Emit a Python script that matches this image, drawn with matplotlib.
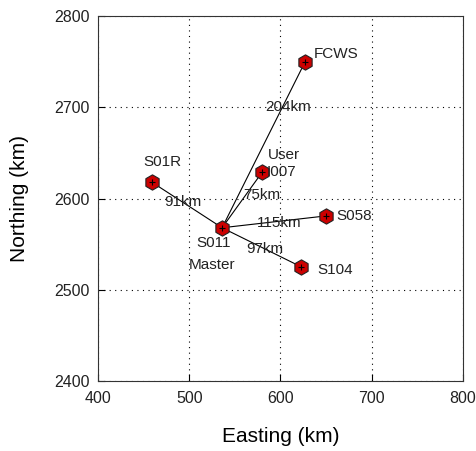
import matplotlib
matplotlib.use("Agg")
import matplotlib.pyplot as plt

plt.rcParams['font.family'] = ['Liberation Sans', 'DejaVu Sans']

# Station data (km)
names = ["S011", "FCWS", "I007", "S01R", "S058", "S104"]
east = [536, 627, 580, 459, 650, 623]
north = [2568, 2750, 2629, 2618, 2581, 2525]
dist_labels = ["204km", "75km", "91km", "115km", "97km"]
dist_pos_x = [608, 580, 493, 599, 583]
dist_pos_y = [2700, 2604, 2596, 2573, 2545]

xticks = [400, 500, 600, 700, 800]
yticks = [2400, 2500, 2600, 2700, 2800]

fig = plt.figure(figsize=(4.77, 4.51), dpi=100)
ax = fig.add_axes([0.2055, 0.1552, 0.765, 0.809])

# lines from master
for i in range(1, len(names)):
    ax.plot([east[0], east[i]], [north[0], north[i]], color='black', lw=0.8, zorder=2)

ax.plot(east, north, linestyle='none', marker='h', markersize=11,
        markerfacecolor='#cc0000', markeredgecolor='#222222', markeredgewidth=0.8, zorder=3)
ax.plot(east, north, linestyle='none', marker='+', markersize=5,
        color='black', markeredgewidth=0.8, zorder=4)

fs = 11
for t, x, y in zip(dist_labels, dist_pos_x, dist_pos_y):
    ax.text(x, y, t, fontsize=fs, ha='center', va='center', zorder=5, color='#222222')

ax.text(637, 2759, "FCWS", fontsize=fs, ha='left', va='center', color='#222222')
ax.text(604, 2648, "User", fontsize=fs, ha='center', va='center', color='#222222')
ax.text(585, 2629, "I007", fontsize=fs, ha='left', va='center', color='#222222')
ax.text(471, 2640, "S01R", fontsize=fs, ha='center', va='center', color='#222222')
ax.text(661, 2581, "S058", fontsize=fs, ha='left', va='center', color='#222222')
ax.text(640, 2522, "S104", fontsize=fs, ha='left', va='center', color='#222222')
ax.text(527, 2551, "S011", fontsize=fs, ha='center', va='center', color='#222222')
ax.text(525, 2527, "Master", fontsize=fs, ha='center', va='center', color='#222222')

ax.set_xlim(400, 800)
ax.set_ylim(2400, 2800)
ax.set_xticks(xticks)
ax.set_yticks(yticks)
ax.tick_params(direction='in', labelsize=11.5, length=5, width=0.8, top=False, right=False,
               labelcolor='#222222')
ax.tick_params(axis='x', pad=7)
ax.tick_params(axis='y', pad=6)
ax.grid(True, color='black', linestyle=(0, (1, 4)), linewidth=0.8)
for s in ax.spines.values():
    s.set_linewidth(0.8)
    s.set_color('#333333')
ax.set_xlabel("Easting (km)", fontsize=15)
ax.set_ylabel("Northing (km)", fontsize=15)
ax.xaxis.label.set_va('center')
ax.yaxis.label.set_va('center')
ax.xaxis.set_label_coords(0.5, -0.153)
ax.yaxis.set_label_coords(-0.214, 0.5)

fig.savefig("out.png", dpi=100)
